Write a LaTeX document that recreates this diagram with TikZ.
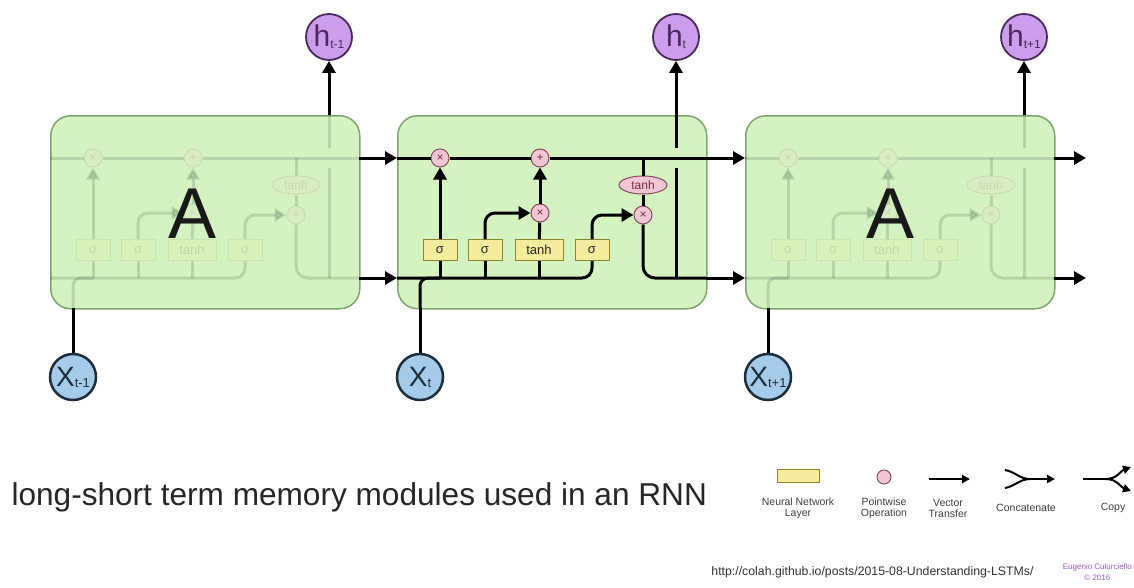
\documentclass[tikz,border=0pt]{standalone}
\usepackage{fontspec}
\setmainfont{Liberation Sans}
\usetikzlibrary{arrows.meta,shapes.geometric,calc}

\definecolor{cellfill}{HTML}{D4F3C1}
\definecolor{celldraw}{HTML}{7FA56E}
\definecolor{layfill}{HTML}{F3EC9C}
\definecolor{laydraw}{HTML}{8C8530}
\definecolor{opfill}{HTML}{F2C6D4}
\definecolor{opdraw}{HTML}{8B4A5C}
\definecolor{optext}{HTML}{7A2E40}
\definecolor{hfill}{HTML}{CB9DEB}
\definecolor{hdraw}{HTML}{4A2A5C}
\definecolor{xfill}{HTML}{A5CBEA}
\definecolor{xdraw}{HTML}{1E2D3C}
\definecolor{credit}{HTML}{9B59D0}

\tikzset{
  vline/.style={line width=3pt, black},
  vec/.style={vline, -{Triangle[length=12pt,width=13pt]}},
  cellbox/.style={draw=celldraw, line width=1.5pt, fill=cellfill, rounded corners=20pt,
    minimum width=309pt, minimum height=193pt, anchor=north west, inner sep=0pt},
  layer/.style={draw=laydraw, line width=1pt, fill=layfill, minimum height=21pt, inner sep=0pt,
    font=\fontsize{13}{13}\selectfont, text=black!85},
  pw/.style={circle, draw=opdraw, line width=1pt, fill=opfill, minimum size=18pt, inner sep=0pt,
    font=\fontsize{12}{12}\selectfont, text=optext},
  pwell/.style={ellipse, draw=opdraw, line width=1pt, fill=opfill, minimum width=48pt,
    minimum height=18pt, inner sep=0pt, font=\fontsize{12}{12}\selectfont, text=optext},
  hnode/.style={circle, draw=hdraw, line width=1.8pt, fill=hfill, minimum size=46pt, inner sep=0pt,
    text=hdraw, font=\fontsize{30}{30}\selectfont},
  xnode/.style={circle, draw=xdraw, line width=2.5pt, fill=xfill, minimum size=46pt, inner sep=0pt,
    text=xdraw, font=\fontsize{28}{28}\selectfont},
  bigA/.style={font=\fontsize{72}{72}\selectfont, text=black!90},
  ghost/.style={opacity=0.13},
  legtxt/.style={font=\fontsize{10.5}{11}\selectfont, text=black!75, align=center},
  legline/.style={line width=2pt, black},
  legvec/.style={legline, -{Triangle[length=8pt,width=8pt]}},
  cell/.pic={
    \coordinate (-in1) at (0,43);
    \coordinate (-out1) at (309,43);
    \coordinate (-in2) at (0,163);
    \coordinate (-out2) at (309,163);
    \coordinate (-xin) at (23,193);
    \coordinate (-tap) at (246,43);
    \coordinate (-bj) at (279,163);
    \coordinate (-g1) at (279,53);
    \coordinate (-g2) at (279,33);
    \coordinate (-hout) at (279,0);
    \node[pw] (-m1) at (43,43) {×};
    \node[pw] (-p1) at (143,43) {+};
    \node[pw] (-m2) at (143,98) {×};
    \node[pwell] (-th) at (246,70) {tanh};
    \node[pw] (-m3) at (246,100) {×};
    \node[layer, minimum width=34pt] (-s1) at (43,135) {σ};
    \node[layer, minimum width=34pt] (-s2) at (88,135) {σ};
    \node[layer, minimum width=48pt] (-t1) at (142,135) {tanh};
    \node[layer, minimum width=34pt] (-s4) at (195,135) {σ};
    \draw[vline] (-in1) -- (-m1);
    \draw[vline] (-m1) -- (-p1);
    \draw[vline] (-p1) -- (-out1);
    \draw[vline, rounded corners=10pt] (-in2) -| (-s4.south);
    \draw[vline, rounded corners=8pt] (-xin) |- (-s1.south |- -in2);
    \draw[vline] (-s1.south) -- (-s1.south |- -in2);
    \draw[vline] (-s2.south) -- (-s2.south |- -in2);
    \draw[vline] (-t1.south) -- (-t1.south |- -in2);
    \draw[vec] (-s1) -- (-m1);
    \draw[vec, rounded corners=10pt] (-s2.north) |- (-m2);
    \draw[vline] (-t1) -- (-m2);
    \draw[vec] (-m2) -- (-p1);
    \draw[vec, rounded corners=10pt] (-s4.north) |- (-m3);
    \draw[vline] (-tap) -- (-th);
    \draw[vline] (-th) -- (-m3);
    \draw[vline, rounded corners=12pt] (-m3) |- (-out2);
    \draw[vline] (-bj) -- (-g1);
    \draw[vline] (-g2) -- (-hout);
  }
}

\begin{document}
\begin{tikzpicture}[x=1pt,y=-1pt]
\useasboundingbox (0,0) rectangle (1134,587);
\fill[white] (0,0) rectangle (1134,587);

% cells
\node[cellbox] (b1) at (50,115) {};
\pic[ghost] (c1) at (b1.north west) {cell};
\node[bigA] (a1) at (193,214) {A};

\node[cellbox] (b2) at (397,115) {};
\pic (c2) at (b2.north west) {cell};

\node[cellbox] (b3) at (745,115) {};
\pic[ghost] (c3) at (b3.north west) {cell};
\node[bigA] (a3) at (890,214) {A};

% inputs and outputs
\node[xnode] (x1) at (73,377) {X\raisebox{-1pt}{\fontsize{13}{13}\selectfont t-1}};
\node[xnode] (x2) at (420,377) {X\raisebox{-1pt}{\fontsize{13}{13}\selectfont t}};
\node[xnode] (x3) at (768,377) {X\raisebox{-1pt}{\fontsize{13}{13}\selectfont t+1}};
\node[hnode] (h1) at (329,37) {h\raisebox{-2pt}{\fontsize{12}{12}\selectfont t-1}};
\node[hnode] (h2) at (676,37) {h\raisebox{-2pt}{\fontsize{12}{12}\selectfont t}};
\node[hnode] (h3) at (1024,37) {h\raisebox{-2pt}{\fontsize{12}{12}\selectfont t+1}};

\draw[vline] (x1) -- (c1-xin);
\draw[vline] (x2) -- (c2-xin);
\draw[vline] (x3) -- (c3-xin);
\draw[vec] (c1-hout) -- (h1);
\draw[vec] (c2-hout) -- (h2);
\draw[vec] (c3-hout) -- (h3);

\coordinate (e1) at (1086,158);
\coordinate (e2) at (1086,278);
\draw[vec] (c1-out1) -- (c2-in1);
\draw[vec] (c2-out1) -- (c3-in1);
\draw[vec] (c3-out1) -- (e1);
\draw[vec] (c1-out2) -- (c2-in2);
\draw[vec] (c2-out2) -- (c3-in2);
\draw[vec] (c3-out2) -- (e2);

% caption
\node[anchor=west, font=\fontsize{31.6}{32}\selectfont, text=black!85] (cap) at (8,497)
  {long-short term memory modules used in an RNN};

% legend
\node[draw=laydraw, line width=1pt, fill=layfill, minimum width=42pt, minimum height=13pt, inner sep=0pt] (lg1) at (798,476) {};
\node[legtxt] (lt1) at (798,508) {Neural Network\\Layer};
\node[pw, minimum size=14pt] (lg2) at (884,477) {};
\node[legtxt] (lt2) at (884,508) {Pointwise\\Operation};
\coordinate (v1) at (929,479);
\coordinate (v2) at (970,479);
\draw[legvec] (v1) -- (v2);
\node[legtxt] (lt3) at (948,508) {Vector\\Transfer};
\coordinate (ca) at (1005,470);
\coordinate (cb) at (1005,488);
\coordinate (cm) at (1030,479);
\coordinate (ce) at (1055,479);
\draw[legline] (ca) to[out=-10,in=180] (cm);
\draw[legline] (cb) to[out=10,in=180] (cm);
\draw[legvec] (cm) -- (ce);
\node[legtxt] (lt4) at (1026,508) {Concatenate};
\coordinate (cp0) at (1083,479);
\coordinate (cp1) at (1106,479);
\coordinate (cp2) at (1131,467);
\coordinate (cp3) at (1131,491);
\draw[legline] (cp0) -- (cp1);
\draw[legvec] (cp1) to[out=0,in=200] (cp2);
\draw[legvec] (cp1) to[out=0,in=160] (cp3);
\node[legtxt] (lt5) at (1113,508) {Copy};

% credits
\node[anchor=east, font=\fontsize{12.3}{12.3}\selectfont, text=black!80] (url) at (1037,572)
  {http://colah.github.io/posts/2015-08-Understanding-LSTMs/};
\node[anchor=north east, align=center, font=\fontsize{8}{11}\selectfont, text=credit, inner sep=0pt] (cr) at (1132,563)
  {Eugenio Culurciello\\© 2016};
\end{tikzpicture}
\end{document}
